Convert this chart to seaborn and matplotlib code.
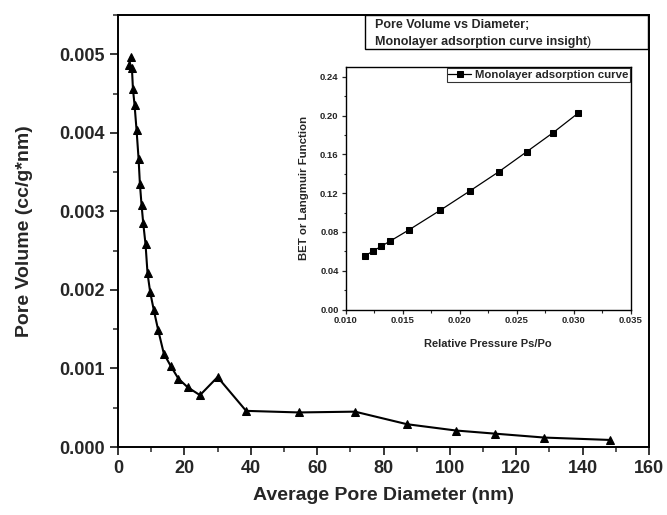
import matplotlib
matplotlib.use("Agg")
import matplotlib.pyplot as plt
from matplotlib.ticker import MultipleLocator, FormatStrFormatter
from matplotlib.patches import Rectangle
import seaborn as sns
import pandas as pd

# ---- data ----
pore_diameter = [3.8, 3.4, 4.2, 4.5, 5.0, 5.6, 6.2, 6.6, 7.1, 7.6, 8.3, 8.9, 9.7, 10.8,
                 12.1, 13.8, 15.9, 18.2, 21.0, 24.7, 30.0, 38.6, 54.5, 71.4, 87.1,
                 101.8, 113.6, 128.5, 148.1]
pore_volume = [0.00496, 0.00486, 0.00482, 0.00456, 0.00435, 0.00403, 0.00367, 0.00335,
               0.00308, 0.00285, 0.00258, 0.00221, 0.00197, 0.00174, 0.00149, 0.00119,
               0.00103, 0.00087, 0.00076, 0.00066, 0.00089, 0.00046, 0.00044, 0.00045,
               0.00029, 0.00021, 0.00017, 0.00012, 0.00009]

rel_pressure = [0.01174, 0.01239, 0.01314, 0.0139, 0.01557, 0.01832, 0.02089, 0.02345,
                0.02589, 0.02823, 0.03042]
bet_function = [0.0556, 0.0601, 0.0653, 0.0705, 0.0822, 0.1025, 0.1222, 0.1422,
                0.1628, 0.1827, 0.2028]

main_xticks = [0, 20, 40, 60, 80, 100, 120, 140, 160]
main_yticks = [0.000, 0.001, 0.002, 0.003, 0.004, 0.005]
inset_xticks = [0.010, 0.015, 0.020, 0.025, 0.030, 0.035]
inset_yticks = [0.00, 0.04, 0.08, 0.12, 0.16, 0.20, 0.24]

main_df = pd.DataFrame({"d": pore_diameter, "v": pore_volume})
inset_df = pd.DataFrame({"p": rel_pressure, "f": bet_function})

sns.set_theme(style="ticks")
plt.rcParams["font.family"] = ["Liberation Sans", "DejaVu Sans"]
plt.rcParams["font.weight"] = "bold"
plt.rcParams["axes.labelweight"] = "bold"

W, H = 667, 515
fig = plt.figure(figsize=(W / 100, H / 100), dpi=100)
fig.patch.set_facecolor("white")

# ---- main axes ----
ax = fig.add_axes([118 / W, 1 - 447 / H, (649 - 118) / W, (447 - 15) / H])
sns.lineplot(data=main_df, x="d", y="v", sort=False, ax=ax, color="black",
             linewidth=1.5, marker="^", markersize=6, markeredgecolor="black",
             markerfacecolor="black")
ax.set_xlim(0, 160)
ax.set_ylim(0, 0.0055)
ax.set_xticks(main_xticks)
ax.set_yticks(main_yticks)
ax.yaxis.set_major_formatter(FormatStrFormatter("%.3f"))
ax.xaxis.set_minor_locator(MultipleLocator(10))
ax.yaxis.set_minor_locator(MultipleLocator(0.0005))
ax.tick_params(which="major", direction="out", length=6, width=1.3, labelsize=13)
ax.tick_params(which="minor", direction="out", length=3.5, width=1.1)
for lab in ax.get_xticklabels() + ax.get_yticklabels():
    lab.set_fontweight("bold")
for s in ax.spines.values():
    s.set_linewidth(1.4)
    s.set_color("black")
ax.set_xlabel("Average Pore Diameter (nm)", fontsize=14, fontweight="bold", labelpad=7)
ax.set_ylabel("Pore Volume (cc/g*nm)", fontsize=14, fontweight="bold", labelpad=19)

# ---- inset axes ----
ix = fig.add_axes([345.5 / W, 1 - 309.5 / H, (630.5 - 345.5) / W, (309.5 - 67.3) / H])
sns.lineplot(data=inset_df, x="p", y="f", sort=False, ax=ix, color="black",
             linewidth=0.9, marker="s", markersize=4.5, markeredgecolor="black",
             markerfacecolor="black", label="Monolayer adsorption curve")
ix.set_xlim(0.010, 0.035)
ix.set_ylim(0, 0.25)
ix.set_xticks(inset_xticks)
ix.set_yticks(inset_yticks)
ix.xaxis.set_major_formatter(FormatStrFormatter("%.3f"))
ix.yaxis.set_major_formatter(FormatStrFormatter("%.2f"))
ix.xaxis.set_minor_locator(MultipleLocator(0.0025))
ix.yaxis.set_minor_locator(MultipleLocator(0.02))
ix.tick_params(which="major", direction="out", length=3, width=0.9, labelsize=6.8, pad=2)
ix.tick_params(which="minor", direction="out", length=1.8, width=0.8)
for lab in ix.get_xticklabels() + ix.get_yticklabels():
    lab.set_fontweight("bold")
for s in ix.spines.values():
    s.set_linewidth(1.0)
    s.set_color("black")
ix.set_xlabel("Relative Pressure Ps/Po", fontsize=8, fontweight="bold", labelpad=10)
ix.set_ylabel("BET or Langmuir Function", fontsize=8.2, fontweight="bold", labelpad=8)
leg = ix.legend(loc="upper right", frameon=True, fancybox=False,
                borderaxespad=0.08, borderpad=0.15, handlelength=2.0, handletextpad=0.3,
                prop={"weight": "bold", "size": 8.2})
leg.get_frame().set_edgecolor("black")
leg.get_frame().set_linewidth(0.8)

# ---- title box (upper right) ----
bx0, bx1, by0, by1 = 365 / W, 648 / W, 1 - 49 / H, 1 - 15 / H
fig.patches.append(Rectangle((bx0, by0), bx1 - bx0, by1 - by0, transform=fig.transFigure,
                             facecolor="white", edgecolor="black", linewidth=1.0, zorder=5))
fig.text(375 / W, 1 - 25 / H, "Pore Volume vs Diameter;", fontsize=9,
         fontweight="bold", va="center", ha="left", zorder=6)
t2 = fig.text(375 / W, 1 - 41.5 / H, "Monolayer adsorption curve insight", fontsize=9,
              fontweight="bold", va="center", ha="left", zorder=6)
fig.canvas.draw()
bb = t2.get_window_extent()
fig.text(bb.x1 / W, 1 - 41.5 / H, ")", fontsize=9, fontweight="normal",
         va="center", ha="left", zorder=6)

fig.savefig("out.png", dpi=100)
